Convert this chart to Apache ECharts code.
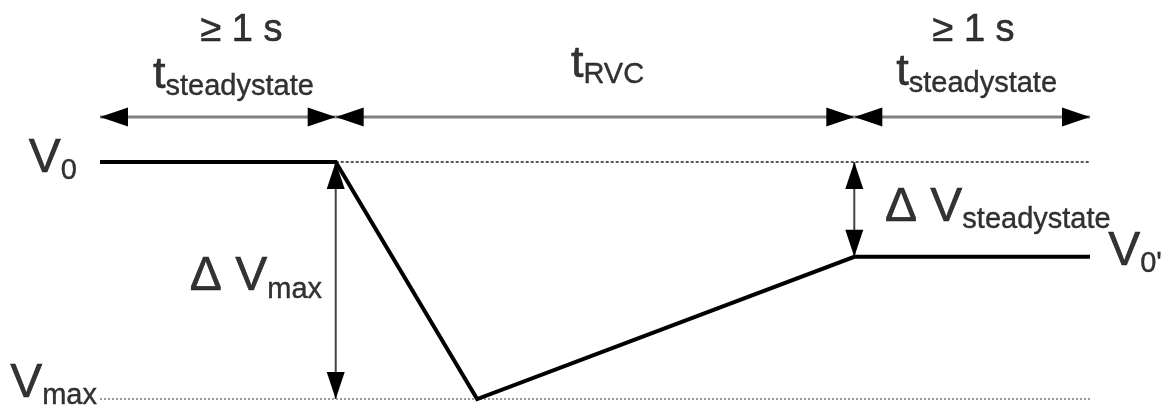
<!DOCTYPE html>
<html lang="en">
<head>
    <meta charset="UTF-8">
    <title>RVC voltage profile</title>
    <script src="https://cdn.jsdelivr.net/npm/echarts@6/dist/echarts.min.js"></script>
    <style>
        html, body { margin: 0; padding: 0; background: #fff; }
        #chart { width: 1169px; height: 408px; }
    </style>
</head>
<body>
    <div id="chart"></div>
    <script>
        // waveform: time in units of the steady-state period, voltage in V
        var waveTime = [0, 1, 1.6, 3.2, 4.2];
        var waveVolt = [12, 12, 7, 10, 10];

        // phase boundaries: steady state | RVC | steady state
        var phaseEdges = [0, 1, 3.2, 4.2];
        var phaseRow = 12.95;

        // reference levels
        var levelV0 = 12;
        var levelVmax = 7;
        var levelV0p = 10;

        // delta arrows [x1, y1, x2, y2]
        var deltaArrows = [
            [1, levelV0, 1, levelVmax],
            [3.2, levelV0, 3.2, levelV0p]
        ];

        // annotation texts
        var labelMain = ['≥ 1 s', '≥ 1 s', 't', 't', 't', 'V', 'V', 'Δ V', 'Δ V', 'V'];
        var labelSub = ['', '', 'steadystate', 'RVC', 'steadystate', '0', 'max', 'max', 'steadystate', '0\''];
        var labelAt = [
            [0.6, 14.77], [3.706, 14.77],
            [0.566, 13.79], [2.153, 14.03], [3.719, 13.85],
            [-0.098, 12.04], [-0.013, 7.3], [0.942, 9.54], [3.33, 11.0], [4.277, 10.07]
        ];
        var labelAlign = ['center', 'center', 'center', 'center', 'center', 'right', 'right', 'right', 'left', 'left'];

        var chart = echarts.init(document.getElementById('chart'));
        var font = '"Liberation Sans", Arial, sans-serif';

        // double-headed arrow drawn through the axes
        function arrowRenderer(headW, headL, shaftColor, shaftWidth) {
            return function (params, api) {
                var a = api.coord([api.value(0), api.value(1)]);
                var b = api.coord([api.value(2), api.value(3)]);
                var dx = b[0] - a[0], dy = b[1] - a[1];
                var len = Math.sqrt(dx * dx + dy * dy) || 1;
                var ux = dx / len, uy = dy / len;
                var nx = -uy, ny = ux;
                function head(tip, dir) {
                    var bx = tip[0] + dir * ux * headL, by = tip[1] + dir * uy * headL;
                    return [tip, [bx + nx * headW / 2, by + ny * headW / 2], [bx - nx * headW / 2, by - ny * headW / 2]];
                }
                return {
                    type: 'group',
                    children: [
                        { type: 'line', shape: { x1: a[0], y1: a[1], x2: b[0], y2: b[1] },
                          style: { stroke: shaftColor, lineWidth: shaftWidth } },
                        { type: 'polygon', shape: { points: head(a, 1) }, style: { fill: '#000' } },
                        { type: 'polygon', shape: { points: head(b, -1) }, style: { fill: '#000' } }
                    ]
                };
            };
        }

        var phaseData = [];
        for (var i = 0; i < phaseEdges.length - 1; i++) {
            phaseData.push([phaseEdges[i], phaseRow, phaseEdges[i + 1], phaseRow]);
        }

        var labelData = labelMain.map(function (m, i) {
            var key = m.charAt(0) === '≥' ? 'g' : (m === 't' ? 't' : 'm');
            var txt = '{' + key + '|' + m + '}' + (labelSub[i] ? '{s|' + labelSub[i] + '}' : '');
            return {
                value: labelAt[i],
                label: { formatter: txt, align: labelAlign[i] }
            };
        });

        // slightly heavier text, like the reference rendering
        var ink = { fontFamily: font, color: '#000', textBorderColor: '#000', textBorderWidth: 0.6 };
        function textStyle(extra) { return Object.assign({}, ink, extra); }

        var option = {
            animation: false,
            grid: { left: 100, right: 79, top: 162, bottom: 9 },
            xAxis: { type: 'value', min: 0, max: 4.2, show: false },
            yAxis: { type: 'value', min: 7, max: 12, show: false },
            series: [
                {
                    type: 'line',
                    data: [[phaseEdges[1], levelV0], [phaseEdges[3], levelV0]],
                    symbol: 'none', clip: false, silent: true,
                    lineStyle: { color: '#222', width: 1.3, type: [3, 2] }
                },
                {
                    type: 'line',
                    data: [[phaseEdges[0], levelVmax], [phaseEdges[3], levelVmax]],
                    symbol: 'none', clip: false, silent: true,
                    lineStyle: { color: '#999', width: 2, type: [2, 2] }
                },
                {
                    type: 'line',
                    data: waveTime.map(function (t, i) { return [t, waveVolt[i]]; }),
                    symbol: 'none', clip: false, silent: true,
                    lineStyle: { color: '#000', width: 4, join: 'miter' }
                },
                {
                    type: 'custom',
                    data: phaseData,
                    encode: { x: [0, 2], y: [1, 3] },
                    renderItem: arrowRenderer(19, 28, '#808080', 3),
                    silent: true
                },
                {
                    type: 'custom',
                    data: deltaArrows,
                    encode: { x: [0, 2], y: [1, 3] },
                    renderItem: arrowRenderer(18, 27, '#444', 2),
                    silent: true
                },
                {
                    type: 'scatter',
                    data: labelData,
                    symbolSize: 1, clip: false, silent: true,
                    itemStyle: { color: 'rgba(0,0,0,0)' },
                    label: {
                        show: true,
                        position: 'inside',
                        verticalAlign: 'middle',
                        color: '#000',
                        rich: {
                            g: textStyle({ fontSize: 38 }),
                            m: textStyle({ fontSize: 48, verticalAlign: 'bottom', padding: [0, 0, 3, 0] }),
                            t: textStyle({ fontSize: 45, verticalAlign: 'bottom', padding: [0, 0, 3, 0] }),
                            s: textStyle({ fontSize: 29, verticalAlign: 'bottom', textBorderWidth: 0.4 })
                        }
                    }
                }
            ]
        };

        chart.setOption(option);
    </script>
</body>
</html>
